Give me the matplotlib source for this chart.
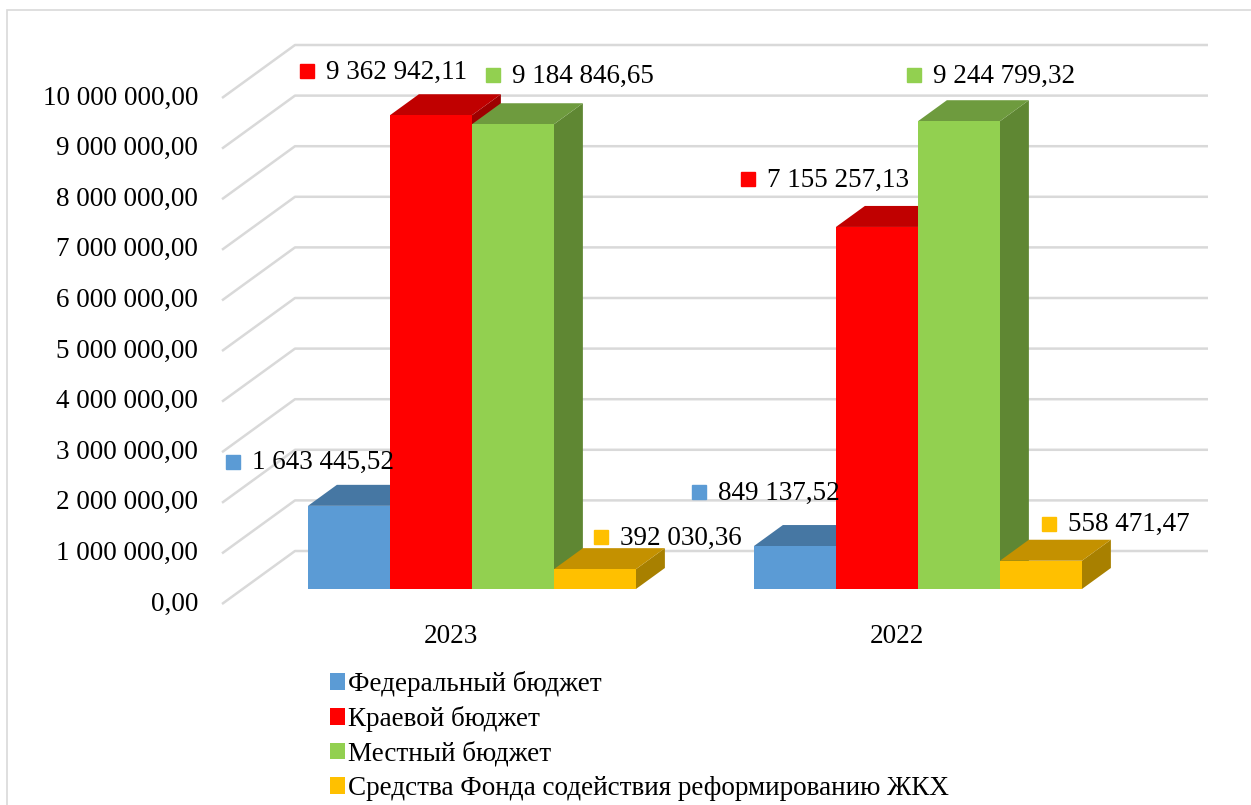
import matplotlib

matplotlib.use("Agg")

import matplotlib.pyplot as plt
from matplotlib.patches import Polygon, Patch, Rectangle
from matplotlib.transforms import offset_copy

years = ["2023", "2022"]
series = [
    "Федеральный бюджет",
    "Краевой бюджет",
    "Местный бюджет",
    "Средства Фонда содействия реформированию ЖКХ",
]
federal = [1643445.52, 849137.52]
regional = [9362942.11, 7155257.13]
local = [9184846.65, 9244799.32]
fund = [392030.36, 558471.47]
yticks = list(range(0, 10000001, 1000000))

values = [federal, regional, local, fund]
front = ["#5B9BD5", "#FF0000", "#92D050", "#FFC000"]
topc = ["#4677A3", "#C00000", "#6E9B3E", "#C49100"]
sidec = ["#3B6489", "#9E0000", "#5F8733", "#A88000"]

# label offsets in pixels from the bar's front-left top corner
lab_off = [
    [(-82, -44), (-62, -54)],
    [(-90, -44), (-95, -48)],
    [(14, -49), (-11, -46)],
    [(40, -32), (42, -37)],
]


def fmt(v):
    s = f"{v:,.2f}"
    return s.replace(",", " ").replace(".", ",")


DPI = 100
W, H = 1251, 805
PX_CAT = 446.0
PX_M = 50.6
X0 = 451.3
Y0 = 604.0

fig = plt.figure(figsize=(W / DPI, H / DPI), dpi=DPI)
ax = fig.add_axes([0, 0, 1, 1])
ax.set_xlim(-X0 / PX_CAT, (W - X0) / PX_CAT)
ax.set_ylim(-(H - Y0) / PX_M * 1e6, Y0 / PX_M * 1e6)
ax.axis("off")

serif = ["Liberation Serif", "DejaVu Serif"]
fs = 19.5

DX = 73 / PX_CAT
DY = 53 / PX_M * 1e6
xw = (222 - X0) / PX_CAT
xend = (1208 - X0) / PX_CAT
grid = "#D9D9D9"

for v in yticks:
    ax.plot([xw, xw + DX, xend], [v, v + DY, v + DY], color=grid, lw=1.8,
            solid_capstyle="butt", zorder=1)
    ax.text(xw, v, fmt(v), ha="right", va="center", fontsize=fs, family=serif,
            transform=offset_copy(ax.transData, fig, x=-24, y=0, units="dots"))

t0 = 15 / 53
td = 21 / 53
bw = 82 / PX_CAT
z = 2
for i, yr in enumerate(years):
    for k in range(4):
        v = values[k][i]
        xl = i - 2 * bw + k * bw + t0 * DX
        xr = xl + bw
        b = t0 * DY
        top = v + b
        ddx, ddy = td * DX, td * DY
        side = [(xr, b), (xr + ddx, b + ddy), (xr + ddx, top + ddy), (xr, top)]
        lid = [(xl, top), (xr, top), (xr + ddx, top + ddy), (xl + ddx, top + ddy)]
        face = [(xl, b), (xr, b), (xr, top), (xl, top)]
        ax.add_patch(Polygon(side, closed=True, fc=sidec[k], ec="none", zorder=z))
        ax.add_patch(Polygon(lid, closed=True, fc=topc[k], ec="none", zorder=z + 1))
        ax.add_patch(Polygon(face, closed=True, fc=front[k], ec="none", zorder=z + 2))
        z += 3

        ox, oy = lab_off[k][i]
        ax.plot([xl], [top], marker="s", ms=10, color=front[k], ls="none", zorder=50,
                transform=offset_copy(ax.transData, fig, x=ox + 7, y=-oy, units="dots"))
        ax.text(xl, top, fmt(v), ha="left", va="center", fontsize=fs, family=serif,
                zorder=50,
                transform=offset_copy(ax.transData, fig, x=ox + 26, y=-oy - 1, units="dots"))

    ax.text(i, 0, yr, ha="center", va="center", fontsize=fs, family=serif,
            transform=offset_copy(ax.transData, fig, x=0, y=-32, units="dots"))

handles = [Patch(fc=c, ec="none") for c in front]
fig.legend(handles, series, loc="upper left", bbox_to_anchor=(330 / W, 1 - 671 / H),
           frameon=False, prop={"family": serif, "size": fs}, handlelength=0.55,
           handleheight=0.55, handletextpad=0.12, labelspacing=0.34, borderpad=0,
           borderaxespad=0)

fig.patches.append(Rectangle((7 / W, -0.1), 1.1, 1.1 - 10 / H, transform=fig.transFigure,
                             fill=False, ec=grid, lw=1.2))

fig.savefig("out.png", dpi=DPI)
